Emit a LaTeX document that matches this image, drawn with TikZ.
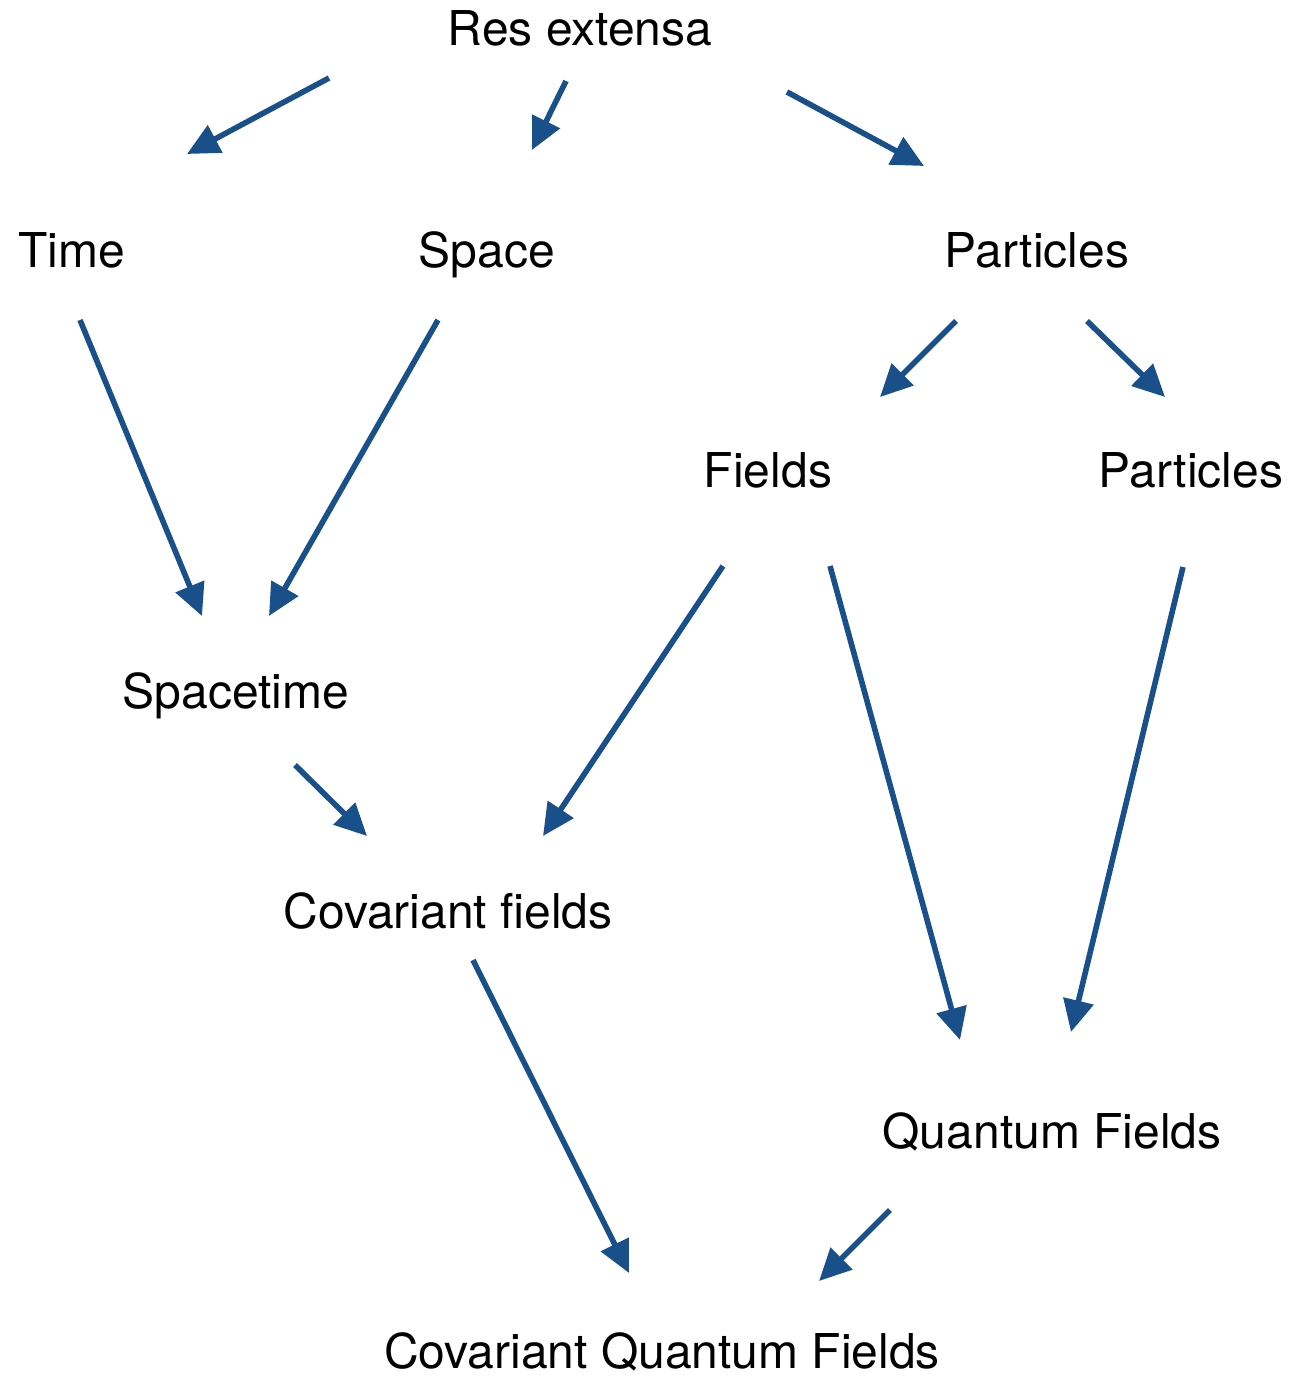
\documentclass[tikz,border=0pt]{standalone}
\usepackage{fontspec}
\setmainfont{TeX Gyre Heros}
\usetikzlibrary{arrows.meta}
\definecolor{arrowblue}{RGB}{26,80,138}
\begin{document}
\begin{tikzpicture}[x=0.5pt,y=-0.5pt,
  lbl/.style={anchor=base,inner sep=0pt,font=\fontsize{24}{28}\selectfont},
  conn/.style={draw=arrowblue,line width=2.8pt,-{Triangle[length=16pt,width=15pt]},fill=arrowblue}]
\useasboundingbox (0,0) rectangle (1298,1377);
\node[lbl] (res) at (580,45) {Res extensa};
\node[lbl] (time) at (72,267) {Time};
\node[lbl] (space) at (487,267) {Space};
\node[lbl] (part1) at (1037,267) {Particles};
\node[lbl] (fields) at (768,487) {Fields};
\node[lbl] (part2) at (1191,487) {Particles};
\node[lbl] (st) at (236,708) {Spacetime};
\node[lbl] (cf) at (448,928) {Covariant fields};
\node[lbl] (qf) at (1052,1148) {Quantum Fields};
\node[lbl] (cqf) at (662,1368) {Covariant Quantum Fields};
% arrow end points
\coordinate (a1s) at (329,78);   \coordinate (a1e) at (187,154);
\coordinate (a2s) at (566,81);   \coordinate (a2e) at (532,150);
\coordinate (a3s) at (787,92);   \coordinate (a3e) at (924,166);
\coordinate (a4s) at (80,320);   \coordinate (a4e) at (202,616);
\coordinate (a5s) at (438,320);  \coordinate (a5e) at (269,616);
\coordinate (a6s) at (956,321);  \coordinate (a6e) at (880,397);
\coordinate (a7s) at (1087,321); \coordinate (a7e) at (1165,397);
\coordinate (a8s) at (723,566);  \coordinate (a8e) at (543,836);
\coordinate (a9s) at (830,566);  \coordinate (a9e) at (960,1040);
\coordinate (a10s) at (1183,567); \coordinate (a10e) at (1071,1032);
\coordinate (a11s) at (295,765); \coordinate (a11e) at (367,836);
\coordinate (a12s) at (473,960); \coordinate (a12e) at (629,1273);
\coordinate (a13s) at (890,1210); \coordinate (a13e) at (819,1281);
\foreach \i in {1,...,13}{\draw[conn] (a\i s) -- (a\i e);}
\end{tikzpicture}
\end{document}
